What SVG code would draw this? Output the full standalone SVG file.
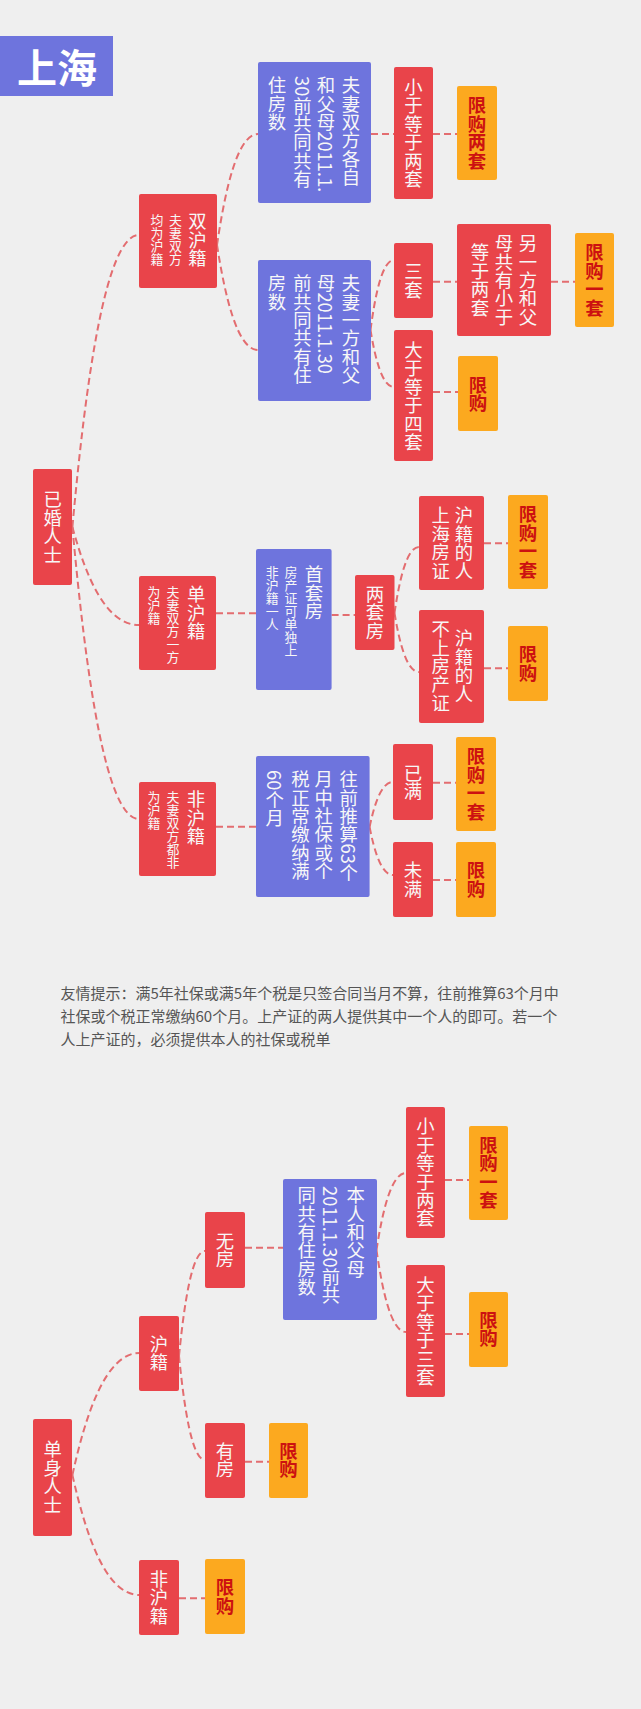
<svg xmlns="http://www.w3.org/2000/svg" width="641" height="1709" viewBox="0 0 641 1709">
<style>
.bg{fill:#efefef}
.r{fill:#e9444a}
.b{fill:#6e74dd}
.o{fill:#fca91f}
.t{font-family:"Noto Sans CJK SC","Noto Sans",sans-serif;fill:#f7f7f7;font-size:18.4px;writing-mode:vertical-rl}
.s{font-size:12.9px}
.m{text-anchor:middle}
.ot{fill:#cc1111;font-weight:bold}
.c{fill:none;stroke:#e36d70;stroke-width:2;stroke-dasharray:7 4}
.note{font-family:"Noto Sans CJK SC","Noto Sans",sans-serif;fill:#555;font-size:15px}
</style>
<rect class="bg" x="0" y="0" width="641" height="1709"/>

<g id="connectors">
<path class="c" d="M72.4,527 C85.7,381 105.7,235 139,235"/>
<path class="c" d="M72.4,527 C85.7,576 105.7,625 139,625"/>
<path class="c" d="M72.4,527 C85.7,673 105.7,819 139,819"/>
<path class="c" d="M217,245 C225.2,189.5 237.5,134 258,134"/>
<path class="c" d="M217,245 C225.2,297.5 237.5,350 258,350"/>
<path class="c" d="M370.5,330 C375.2,295 382.2,260 394,260"/>
<path class="c" d="M370.5,330 C375.2,358.5 382.2,387 394,387"/>
<path class="c" d="M394.5,613 C399.4,580 406.7,547 419,547"/>
<path class="c" d="M394.5,613 C399.4,642.5 406.7,672 419,672"/>
<path class="c" d="M369.6,827 C374.3,804.5 381.3,782 393,782"/>
<path class="c" d="M369.6,827 C374.3,851 381.3,875 393,875"/>
<path class="c" d="M376.5,1250 C382.4,1211.5 391.2,1173 406,1173"/>
<path class="c" d="M376.5,1250 C382.4,1291 391.2,1332 406,1332"/>
<path class="c" d="M179,1356 C184.2,1303.5 192,1251 205,1251"/>
<path class="c" d="M179,1356 C184.2,1408 192,1460 205,1460"/>
<path class="c" d="M72.4,1475 C85.8,1414 105.9,1353 139.4,1353"/>
<path class="c" d="M72.4,1475 C85.8,1535 105.9,1595 139.4,1595"/>
<path class="c" d="M371,134 H394 M433,134 H457"/>
<path class="c" d="M433,281.7 H457 M551,281.7 H575"/>
<path class="c" d="M433,392 H458"/>
<path class="c" d="M216,613.3 H256"/>
<path class="c" d="M331.6,615 H355"/>
<path class="c" d="M484,543.3 H508"/>
<path class="c" d="M484,668.3 H508"/>
<path class="c" d="M216,826.7 H256"/>
<path class="c" d="M433,782.7 H456"/>
<path class="c" d="M433,880 H456"/>
<path class="c" d="M245,1247.7 H283"/>
<path class="c" d="M445,1180 H469"/>
<path class="c" d="M445,1334 H469"/>
<path class="c" d="M245,1461.7 H269"/>
<path class="c" d="M179,1598.3 H205"/>
</g>

<g id="title">
<rect class="b" x="0" y="36" width="113" height="60"/>
<text x="57" y="66" font-family="'Noto Sans CJK SC',sans-serif" font-size="40" font-weight="bold" fill="#ffffff" text-anchor="middle" dominant-baseline="central">上海</text>
</g>

<g id="n-married">
<rect class="r" x="33" y="469" width="39" height="116" rx="2"/>
<text class="t m" x="52.7" y="527">已婚人士</text>
</g>

<g id="n-both">
<rect class="r" x="139" y="194" width="78" height="94" rx="2"/>
<text class="t" x="197.5" y="212">双沪籍</text>
<text class="t s" x="175.5" y="214">夫妻双方</text>
<text class="t s" x="157" y="214">均为沪籍</text>
</g>

<g id="n-blue1">
<rect class="b" x="258" y="62" width="113" height="141" rx="2"/>
<text class="t" x="351" y="76">夫妻双方各自</text>
<text class="t" x="326" y="76">和父母2011.1.</text>
<text class="t" x="302.5" y="76">30前共同共有</text>
<text class="t" x="277" y="76">住房数</text>
</g>
<g id="n-le2">
<rect class="r" x="394" y="67" width="39" height="132" rx="2"/>
<text class="t m" x="413.5" y="133">小于等于两套</text>
</g>
<g id="n-lim2">
<rect class="o" x="457" y="86" width="40" height="94" rx="2"/>
<text class="t m ot" x="477" y="133">限购两套</text>
</g>

<g id="n-blue2">
<rect class="b" x="258" y="260" width="113" height="141" rx="2"/>
<text class="t" x="351" y="274">夫妻一方和父</text>
<text class="t" x="326" y="274">母2011.1.30</text>
<text class="t" x="302.5" y="274">前共同共有住</text>
<text class="t" x="277" y="274">房数</text>
</g>
<g id="n-three">
<rect class="r" x="394" y="243" width="39" height="75" rx="2"/>
<text class="t m" x="413.5" y="280.7">三套</text>
</g>
<g id="n-other">
<rect class="r" x="457" y="224" width="94" height="112" rx="2"/>
<text class="t m" x="528" y="280">另一方和父</text>
<text class="t m" x="504" y="280">母共有小于</text>
<text class="t m" x="480" y="280">等于两套</text>
</g>
<g id="n-lim1a">
<rect class="o" x="575" y="233" width="39" height="94" rx="2"/>
<text class="t m ot" x="594.5" y="280">限购一套</text>
</g>
<g id="n-ge4">
<rect class="r" x="394" y="330" width="39" height="131" rx="2"/>
<text class="t m" x="413.5" y="396">大于等于四套</text>
</g>
<g id="n-lima">
<rect class="o" x="458" y="356" width="40" height="75" rx="2"/>
<text class="t m ot" x="478" y="393.8">限购</text>
</g>

<g id="n-single-hk">
<rect class="r" x="139" y="576" width="77" height="94" rx="2"/>
<text class="t" x="196.2" y="585">单沪籍</text>
<text class="t s" x="173" y="586">夫妻双方一方</text>
<text class="t s" x="154" y="586">为沪籍</text>
</g>
<g id="n-first">
<rect class="b" x="256" y="549" width="75.6" height="141" rx="2"/>
<text class="t" x="314" y="565">首套房</text>
<text class="t s" x="291" y="566">房产证可单独上</text>
<text class="t s" x="272.3" y="566">非沪籍一人</text>
</g>
<g id="n-two">
<rect class="r" x="355" y="575" width="39.5" height="75" rx="2"/>
<text class="t m" x="375" y="612.5">两套房</text>
</g>
<g id="n-hk-on">
<rect class="r" x="419" y="496" width="65" height="94" rx="2"/>
<text class="t m" x="464" y="543">沪籍的人</text>
<text class="t m" x="440.7" y="543">上海房证</text>
</g>
<g id="n-lim1b">
<rect class="o" x="508" y="495" width="40" height="94" rx="2"/>
<text class="t m ot" x="528" y="542">限购一套</text>
</g>
<g id="n-hk-off">
<rect class="r" x="419" y="610" width="65" height="113" rx="2"/>
<text class="t m" x="464" y="666">沪籍的人</text>
<text class="t m" x="440.7" y="666">不上房产证</text>
</g>
<g id="n-limb">
<rect class="o" x="508" y="626" width="40" height="75" rx="2"/>
<text class="t m ot" x="528" y="663.5">限购</text>
</g>

<g id="n-non-hk">
<rect class="r" x="139" y="782" width="77" height="94" rx="2"/>
<text class="t" x="196" y="790">非沪籍</text>
<text class="t s" x="173" y="791">夫妻双方都非</text>
<text class="t s" x="154" y="791">为沪籍</text>
</g>
<g id="n-blue3">
<rect class="b" x="256" y="756" width="113.6" height="141" rx="2"/>
<text class="t" x="348.7" y="770">往前推算63个</text>
<text class="t" x="323.8" y="770">月中社保或个</text>
<text class="t" x="300.5" y="770">税正常缴纳满</text>
<text class="t" x="274.7" y="770">60个月</text>
</g>
<g id="n-full">
<rect class="r" x="393" y="744" width="40" height="76" rx="2"/>
<text class="t m" x="413" y="782">已满</text>
</g>
<g id="n-lim1c">
<rect class="o" x="456" y="737" width="40" height="94" rx="2"/>
<text class="t m ot" x="476" y="784">限购一套</text>
</g>
<g id="n-notfull">
<rect class="r" x="393" y="842" width="40" height="75" rx="2"/>
<text class="t m" x="413" y="879.5">未满</text>
</g>
<g id="n-limc">
<rect class="o" x="456" y="842" width="40" height="75" rx="2"/>
<text class="t m ot" x="476" y="879.5">限购</text>
</g>

<g id="note">
<text class="note" x="60.5" y="999">友情提示：满5年社保或满5年个税是只签合同当月不算，往前推算63个月中</text>
<text class="note" x="60.5" y="1022">社保或个税正常缴纳60个月。上产证的两人提供其中一个人的即可。若一个</text>
<text class="note" x="60.5" y="1045">人上产证的，必须提供本人的社保或税单</text>
</g>

<g id="n-single">
<rect class="r" x="33" y="1419" width="39" height="117" rx="2"/>
<text class="t m" x="52.7" y="1477">单身人士</text>
</g>
<g id="n-s-hk">
<rect class="r" x="139" y="1316" width="40" height="75" rx="2"/>
<text class="t m" x="159" y="1353">沪籍</text>
</g>
<g id="n-nohouse">
<rect class="r" x="205" y="1212" width="40" height="76" rx="2"/>
<text class="t m" x="225" y="1250">无房</text>
</g>
<g id="n-blue4">
<rect class="b" x="283" y="1179" width="94" height="141" rx="2"/>
<text class="t" x="355.7" y="1186">本人和父母</text>
<text class="t" x="331" y="1186">2011.1.30前共</text>
<text class="t" x="306.6" y="1186">同共有住房数</text>
</g>
<g id="n-s-le2">
<rect class="r" x="406" y="1107" width="39" height="131" rx="2"/>
<text class="t m" x="425.5" y="1172.5">小于等于两套</text>
</g>
<g id="n-lim1d">
<rect class="o" x="469" y="1126" width="39" height="94" rx="2"/>
<text class="t m ot" x="488.5" y="1172.5">限购一套</text>
</g>
<g id="n-s-ge3">
<rect class="r" x="406" y="1265" width="39" height="132" rx="2"/>
<text class="t m" x="425.5" y="1331">大于等于三套</text>
</g>
<g id="n-limd">
<rect class="o" x="469" y="1292" width="39" height="75" rx="2"/>
<text class="t m ot" x="488.5" y="1329">限购</text>
</g>
<g id="n-house">
<rect class="r" x="205" y="1423" width="40" height="75" rx="2"/>
<text class="t m" x="225" y="1460">有房</text>
</g>
<g id="n-lime">
<rect class="o" x="269" y="1423" width="39" height="75" rx="2"/>
<text class="t m ot" x="288.5" y="1460">限购</text>
</g>
<g id="n-s-nonhk">
<rect class="r" x="139" y="1560" width="40" height="75" rx="2"/>
<text class="t m" x="159" y="1597.5">非沪籍</text>
</g>
<g id="n-limf">
<rect class="o" x="205" y="1559" width="40" height="75" rx="2"/>
<text class="t m ot" x="225" y="1596.5">限购</text>
</g>
</svg>
